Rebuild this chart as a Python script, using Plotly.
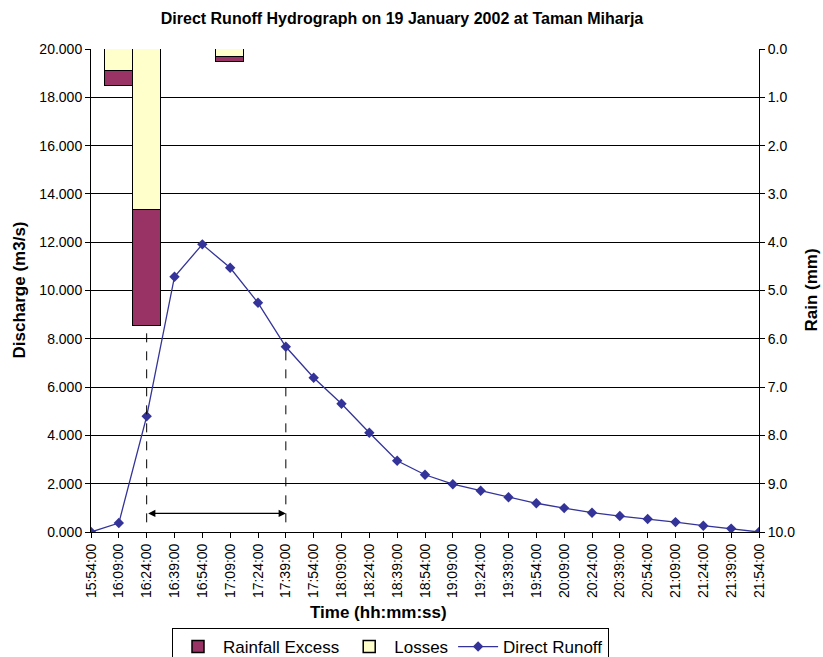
import plotly.graph_objects as go

times = ["15:54:00", "16:09:00", "16:24:00", "16:39:00", "16:54:00", "17:09:00",
         "17:24:00", "17:39:00", "17:54:00", "18:09:00", "18:24:00", "18:39:00",
         "18:54:00", "19:09:00", "19:24:00", "19:39:00", "19:54:00", "20:09:00",
         "20:24:00", "20:39:00", "20:54:00", "21:09:00", "21:24:00", "21:39:00",
         "21:54:00"]
direct_runoff = [0.0, 0.37, 4.79, 10.57, 11.91, 10.94, 9.49, 7.67, 6.39, 5.31,
                 4.11, 2.95, 2.37, 1.98, 1.71, 1.44, 1.19, 0.99, 0.80, 0.66,
                 0.54, 0.41, 0.26, 0.14, 0.0]
rain_times = ["16:09:00", "16:24:00", "17:09:00"]
losses = [0.45, 3.34, 0.17]
rainfall_excess = [0.31, 2.40, 0.10]

FONT = "Liberation Sans, Arial, sans-serif"
EXCESS_C = "#993366"
LOSS_C = "#FFFFCC"
LINE_C = "#333399"

W, H = 823, 657
PL, PR, PT, PB = 91, 759, 49, 532          # plot area in pixels
PW, PH = PR - PL, PB - PT

def px(xw):
    return (xw - PL) / PW

def py(yw):
    return (PB - yw) / PH

fig = go.Figure()
fig.add_trace(go.Bar(x=rain_times, y=losses, name="Losses", yaxis="y2",
                     marker=dict(color=LOSS_C, line=dict(color="black", width=1.5)),
                     legendrank=2))
fig.add_trace(go.Bar(x=rain_times, y=rainfall_excess, name="Rainfall Excess", yaxis="y2",
                     marker=dict(color=EXCESS_C, line=dict(color="black", width=1.5)),
                     legendrank=1))
fig.add_trace(go.Scatter(x=times, y=direct_runoff, name="Direct Runoff", mode="lines+markers",
                         line=dict(color=LINE_C, width=1.3),
                         marker=dict(symbol="diamond", size=8, color=LINE_C),
                         legendrank=3))

# time-to-peak / lag markers
i0 = times.index(rain_times[1])
i1 = 7
bar_bottom = 20 - 2 * (losses[1] + rainfall_excess[1])
fig.add_shape(type="line", xref="x", yref="y", x0=i0, x1=i0, y0=0.4, y1=bar_bottom,
              line=dict(color="black", width=1, dash="dash"))
fig.add_shape(type="line", xref="x", yref="y", x0=i1, x1=i1, y0=0.4, y1=direct_runoff[i1],
              line=dict(color="black", width=1, dash="dash"))
fig.add_annotation(x=i1, y=0.77, ax=i0, ay=0.77, xref="x", yref="y", axref="x", ayref="y",
                   text="", showarrow=True, arrowhead=2, startarrowhead=2, arrowside="end+start",
                   arrowsize=1.2, arrowwidth=1.2, arrowcolor="black", startstandoff=0, standoff=0)

fig.add_annotation(text="<b>Discharge (m3/s)</b>", xref="paper", yref="paper",
                   x=px(19), y=0.5, xanchor="center", yanchor="middle",
                   textangle=-90, showarrow=False, font=dict(size=17, color="black"))
fig.add_annotation(text="<b>Rain (mm)</b>", xref="paper", yref="paper",
                   x=px(811), y=0.5, xanchor="center", yanchor="middle",
                   textangle=-90, showarrow=False, font=dict(size=17, color="black"))
fig.add_annotation(text="<b>Time (hh:mm:ss)</b>", xref="paper", yref="paper",
                   x=px(378), y=py(612), xanchor="center", yanchor="middle",
                   showarrow=False, font=dict(size=17, color="black"))

fig.update_layout(
    width=W, height=H,
    margin=dict(l=PL, r=W - PR, t=PT, b=H - PB, autoexpand=False),
    paper_bgcolor="white", plot_bgcolor="white",
    font=dict(family=FONT, color="black", size=14),
    title=dict(text="<b>Direct Runoff Hydrograph on 19 January 2002 at Taman Miharja</b>",
               x=402 / W, xanchor="center", y=1 - 18 / H, yanchor="middle",
               font=dict(size=16, color="black")),
    barmode="stack", bargap=0,
    xaxis=dict(type="category", categoryorder="array", categoryarray=times,
               range=[0, len(times) - 1], tickangle=-90, showline=True, linecolor="black",
               linewidth=1, ticks="outside", ticklen=5, tickcolor="black", showgrid=False,
               tickfont=dict(size=14), automargin=False),
    yaxis=dict(range=[0, 20], dtick=2, tickformat=".3f", showline=True, linecolor="black",
               linewidth=1, ticks="outside", ticklen=5, tickcolor="black", showgrid=True,
               gridcolor="black", gridwidth=1, zeroline=False, tickfont=dict(size=14),
               automargin=False),
    yaxis2=dict(range=[10, 0], dtick=1, tickformat=".1f", overlaying="y", side="right",
                showline=True, linecolor="black", linewidth=1, ticks="outside", ticklen=5,
                tickcolor="black", showgrid=False, zeroline=False, tickfont=dict(size=14),
                automargin=False),
    legend=dict(orientation="h", x=px(172), xanchor="left",
                y=py(628), yanchor="top",
                bordercolor="black", borderwidth=1, bgcolor="white",
                font=dict(size=17), traceorder="normal", itemwidth=40),
    showlegend=True,
)

fig.write_html(
    "out.html",
    config={"displayModeBar": False},
    post_script="document.body.style.margin='0';document.body.style.overflow='hidden';",
)
